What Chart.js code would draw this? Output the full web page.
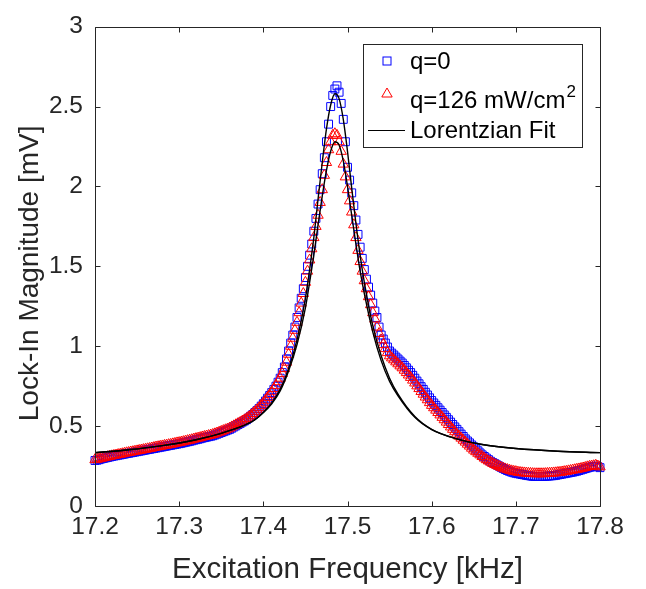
<!DOCTYPE html>
<html><head><meta charset="utf-8">
<script src="https://cdn.jsdelivr.net/npm/chart.js@4.4.1/dist/chart.umd.min.js"></script>
<style>html,body{margin:0;padding:0;background:#fff}canvas{display:block}</style>
</head><body>
<canvas id="c" width="646" height="589"></canvas>
<script>
// Excitation frequency [kHz] of the measured points
const freq = [
 17.2,17.2025,17.205,17.2075,17.21,17.2125,17.215,17.2175,17.22,17.2225,17.225,17.2275,17.23,17.2325,17.235,17.2375,17.24,17.2425,17.245,17.2475,
 17.25,17.2525,17.255,17.2575,17.26,17.2625,17.265,17.2675,17.27,17.2725,17.275,17.2775,17.28,17.2825,17.285,17.2875,17.29,17.2925,17.295,17.2975,
 17.3,17.3025,17.305,17.3075,17.31,17.3125,17.315,17.3175,17.32,17.3225,17.325,17.3275,17.33,17.3325,17.335,17.3375,17.34,17.3425,17.345,17.3475,
 17.35,17.3525,17.355,17.3575,17.36,17.3625,17.365,17.3675,17.37,17.3725,17.375,17.3775,17.38,17.3825,17.385,17.3875,17.39,17.3925,17.395,17.3975,
 17.4,17.4025,17.405,17.4075,17.41,17.4125,17.415,17.4175,17.42,
 17.4225,17.425,17.4275,17.43,17.4325,17.435,17.4375,17.44,17.4425,17.445,17.4475,17.45,17.4525,17.455,17.4575,17.46,17.4625,17.465,17.4675,17.47,
 17.4725,17.475,17.4775,17.48,17.4825,17.485,17.4875,17.49,17.4925,17.495,17.4975,17.5,17.5025,17.505,17.5075,17.51,17.5125,17.515,17.5175,17.52,
 17.5225,17.525,17.5275,17.53,17.5325,17.535,17.5375,17.54,17.5425,17.545,17.5475,
 17.55,17.5525,17.555,17.5575,17.56,17.5625,17.565,17.5675,17.57,17.5725,17.575,17.5775,17.58,17.5825,17.585,17.5875,17.59,17.5925,17.595,17.5975,
 17.6,17.6025,17.605,17.6075,17.61,17.6125,17.615,17.6175,17.62,17.6225,17.625,17.6275,17.63,17.6325,17.635,17.6375,17.64,17.6425,17.645,17.6475,
 17.65,17.6525,17.655,17.6575,17.66,17.6625,17.665,17.6675,17.67,17.6725,17.675,17.6775,17.68,17.6825,17.685,17.6875,17.69,17.6925,17.695,17.6975,
 17.7,17.7025,17.705,17.7075,17.71,17.7125,17.715,17.7175,17.72,17.7225,17.725,17.7275,17.73,17.7325,17.735,17.7375,17.74,17.7425,17.745,17.7475,
 17.75,17.7525,17.755,17.7575,17.76,17.7625,17.765,17.7675,17.77,17.7725,17.775,17.7775,17.78,17.7825,17.785,17.7875,17.79,17.7925,17.795,17.7975,
 17.8
];
// q = 0 (blue squares), lock-in magnitude [mV]
const magQ0 = [
 0.285,0.287,0.29,0.295,0.298,0.301,0.304,0.307,0.31,0.313,0.315,0.318,0.32,0.323,0.325,0.328,0.33,0.333,0.335,0.338,
 0.34,0.343,0.345,0.348,0.35,0.353,0.355,0.358,0.36,0.363,0.365,0.368,0.37,0.373,0.375,0.378,0.38,0.383,0.385,0.388,
 0.39,0.393,0.396,0.399,0.402,0.405,0.408,0.412,0.415,0.418,0.421,0.425,0.428,0.431,0.434,0.437,0.44,0.445,0.45,0.455,
 0.46,0.465,0.47,0.475,0.48,0.487,0.495,0.502,0.51,0.517,0.525,0.532,0.54,0.551,0.562,0.573,0.585,0.597,0.61,0.625,
 0.64,0.657,0.675,0.692,0.71,0.73,0.75,0.775,0.80,
 0.835,0.87,0.92,0.97,1.02,1.07,1.12,1.18,1.24,1.30,1.36,1.43,1.50,1.57,1.64,1.72,1.80,1.89,1.98,2.08,
 2.18,2.28,2.39,2.50,2.57,2.61,2.63,2.59,2.52,2.42,2.28,2.12,2.04,1.96,1.88,1.79,1.70,1.62,1.55,1.48,
 1.42,1.37,1.32,1.27,1.22,1.18,1.12,1.07,1.045,1.02,0.995,
 0.97,0.957,0.945,0.932,0.92,0.907,0.895,0.88,0.865,0.85,0.835,0.818,0.80,0.782,0.765,0.747,0.73,0.712,0.695,0.677,
 0.66,0.645,0.63,0.615,0.60,0.585,0.57,0.555,0.54,0.525,0.51,0.495,0.48,0.465,0.45,0.435,0.42,0.407,0.395,0.382,
 0.37,0.357,0.345,0.332,0.32,0.31,0.30,0.29,0.28,0.272,0.265,0.257,0.25,0.242,0.235,0.228,0.222,0.217,0.212,0.208,
 0.205,0.202,0.20,0.197,0.195,0.192,0.19,0.188,0.186,0.185,0.185,0.185,0.185,0.185,0.186,0.187,0.188,0.189,0.19,0.192,
 0.195,0.197,0.20,0.202,0.205,0.207,0.21,0.212,0.215,0.218,0.222,0.226,0.23,0.234,0.238,0.242,0.245,0.248,0.25,0.246,
 0.24
];
// q = 126 mW/cm^2 (red triangles)
const magQ126 = [
 0.29,0.293,0.296,0.299,0.302,0.305,0.308,0.311,0.314,0.317,0.319,0.322,0.324,0.327,0.33,0.333,0.335,0.338,0.34,0.343,
 0.345,0.348,0.35,0.353,0.355,0.358,0.36,0.363,0.366,0.369,0.371,0.374,0.376,0.379,0.381,0.384,0.386,0.389,0.392,0.395,
 0.397,0.40,0.403,0.406,0.409,0.412,0.415,0.419,0.422,0.425,0.428,0.432,0.435,0.438,0.441,0.444,0.448,0.452,0.457,0.462,
 0.467,0.472,0.477,0.482,0.488,0.495,0.502,0.509,0.516,0.523,0.531,0.539,0.547,0.557,0.568,0.579,0.59,0.602,0.615,0.63,
 0.645,0.662,0.68,0.697,0.715,0.735,0.755,0.778,0.80,
 0.83,0.86,0.90,0.95,1.00,1.05,1.10,1.15,1.21,1.27,1.33,1.40,1.47,1.54,1.61,1.68,1.75,1.82,1.90,1.98,
 2.07,2.15,2.23,2.28,2.32,2.33,2.32,2.28,2.22,2.14,2.06,1.98,1.91,1.84,1.76,1.68,1.60,1.53,1.47,1.41,
 1.36,1.31,1.26,1.21,1.17,1.12,1.08,1.04,1.01,0.985,0.96,
 0.94,0.927,0.915,0.902,0.89,0.877,0.865,0.85,0.835,0.82,0.805,0.788,0.77,0.752,0.735,0.717,0.70,0.682,0.665,0.647,
 0.63,0.615,0.60,0.585,0.57,0.555,0.54,0.525,0.51,0.495,0.48,0.465,0.45,0.437,0.425,0.412,0.40,0.387,0.375,0.362,
 0.35,0.34,0.33,0.32,0.31,0.30,0.29,0.282,0.275,0.267,0.26,0.254,0.248,0.242,0.237,0.232,0.228,0.224,0.22,0.217,
 0.215,0.212,0.21,0.208,0.207,0.206,0.205,0.204,0.203,0.202,0.202,0.202,0.202,0.202,0.203,0.204,0.205,0.206,0.207,0.208,
 0.21,0.211,0.213,0.215,0.217,0.22,0.222,0.225,0.227,0.23,0.232,0.235,0.238,0.241,0.245,0.248,0.25,0.252,0.255,0.25,
 0.245
];
// Lorentzian fit curves
const fitFreq = [17.2,17.24,17.28,17.32,17.35,17.37,17.39,17.4,17.41,17.42,17.43,17.44,17.45,17.455,17.46,17.465,17.47,17.475,17.48,17.485,
 17.49,17.495,17.5,17.505,17.51,17.515,17.52,17.53,17.54,17.55,17.56,17.58,17.6,17.63,17.66,17.7,17.75,17.8];
const fitQ0 = [0.334,0.352,0.378,0.415,0.455,0.49,0.54,0.585,0.645,0.73,0.86,1.04,1.30,1.48,1.68,1.92,2.15,2.36,2.51,2.58,
 2.55,2.42,2.22,1.99,1.77,1.57,1.40,1.13,0.94,0.80,0.70,0.56,0.48,0.42,0.385,0.36,0.343,0.334];
const fitQ126 = [0.334,0.352,0.378,0.415,0.455,0.49,0.54,0.585,0.64,0.72,0.845,1.01,1.24,1.40,1.57,1.76,1.94,2.10,2.22,2.28,
 2.26,2.16,2.00,1.82,1.64,1.47,1.33,1.09,0.91,0.78,0.69,0.555,0.478,0.42,0.385,0.36,0.343,0.334];

const xTicks = [17.2,17.3,17.4,17.5,17.6,17.7,17.8];
const yTicks = [0,0.5,1,1.5,2,2.5,3];
const legendNames = ['q=0','q=126 mW/cm','2','Lorentzian Fit'];
const xTitle = 'Excitation Frequency [kHz]';
const yTitle = 'Lock-In Magnitude [mV]';

const FONT = "'Liberation Sans', Arial, Helvetica, sans-serif";
const AX = '#262626';
const BLUE = '#0000ff', RED = '#ff0000';

const pts = (xs, ys) => xs.map((v, i) => ({x: v, y: ys[i]}));

const framePlugin = {
  id: 'frame',
  afterDatasetsDraw(chart) {
    const {ctx, chartArea: a, scales: {x, y}} = chart;
    const L = Math.round(a.left) + 0.5, R = Math.round(a.right) + 0.5;
    const T = Math.round(a.top) + 0.5, B = Math.round(a.bottom) + 0.5;
    ctx.save();
    ctx.strokeStyle = AX; ctx.lineWidth = 1;
    ctx.beginPath();
    ctx.moveTo(L, T); ctx.lineTo(R, T); ctx.lineTo(R, B); ctx.lineTo(L, B); ctx.closePath();
    const tl = 5;
    x.ticks.forEach(t => {
      const px = Math.round(x.getPixelForValue(t.value)) + 0.5;
      ctx.moveTo(px, B); ctx.lineTo(px, B - tl);
      ctx.moveTo(px, T); ctx.lineTo(px, T + tl);
    });
    y.ticks.forEach(t => {
      const py = Math.round(y.getPixelForValue(t.value)) + 0.5;
      ctx.moveTo(L, py); ctx.lineTo(L + tl, py);
      ctx.moveTo(R, py); ctx.lineTo(R - tl, py);
    });
    ctx.stroke();
    // y-axis title
    ctx.fillStyle = AX;
    ctx.font = '28px ' + FONT;
    ctx.textAlign = 'center'; ctx.textBaseline = 'middle';
    ctx.translate(30, (a.top + a.bottom) / 2 + 7);
    ctx.rotate(-Math.PI / 2);
    ctx.fillText(yTitle, 0, 0);
    ctx.restore();
  }
};

const legendPlugin = {
  id: 'mlegend',
  afterDraw(chart) {
    const {ctx, chartArea: a} = chart;
    const w = 219, h = 103;
    const x0 = Math.round(a.right - 18 - w), y0 = Math.round(a.top + 17);
    ctx.save();
    ctx.fillStyle = '#fff';
    ctx.fillRect(x0, y0, w, h);
    ctx.strokeStyle = AX; ctx.lineWidth = 1;
    ctx.strokeRect(x0 + 0.5, y0 + 0.5, w, h);
    const mx = x0 + 24;
    ctx.strokeStyle = BLUE; ctx.lineWidth = 1;
    ctx.strokeRect(mx - 4, y0 + 17 - 4, 8, 8);
    ctx.strokeStyle = RED;
    const ty = y0 + 50, r = 6;
    ctx.beginPath();
    ctx.moveTo(mx, ty - r);
    ctx.lineTo(mx + r * 0.866, ty + r / 2);
    ctx.lineTo(mx - r * 0.866, ty + r / 2);
    ctx.closePath(); ctx.stroke();
    ctx.strokeStyle = '#000'; ctx.lineWidth = 1.2;
    ctx.beginPath(); ctx.moveTo(x0 + 5, y0 + 86.5); ctx.lineTo(x0 + 42, y0 + 86.5); ctx.stroke();
    ctx.fillStyle = '#000';
    ctx.textBaseline = 'alphabetic'; ctx.textAlign = 'left';
    ctx.font = '24px ' + FONT;
    const tx = x0 + 47;
    ctx.fillText(legendNames[0], tx, y0 + 25);
    ctx.fillText(legendNames[1], tx, y0 + 64);
    const wq = ctx.measureText(legendNames[1]).width;
    ctx.font = '17px ' + FONT;
    ctx.fillText(legendNames[2], tx + wq + 1, y0 + 53);
    ctx.font = '24px ' + FONT;
    ctx.fillText(legendNames[3], tx, y0 + 94);
    ctx.restore();
  }
};

new Chart(document.getElementById('c'), {
  type: 'scatter',
  data: {
    datasets: [
      {label: 'Lorentzian Fit', data: pts(fitFreq, fitQ0), showLine: true, borderColor: '#000', borderWidth: 1.4,
       pointRadius: 0, fill: false, cubicInterpolationMode: 'monotone', order: 0},
      {label: 'Lorentzian Fit (q=126)', data: pts(fitFreq, fitQ126), showLine: true, borderColor: '#000', borderWidth: 1.4,
       pointRadius: 0, fill: false, cubicInterpolationMode: 'monotone', order: 0},
      {label: 'q=126 mW/cm²', data: pts(freq, magQ126), pointStyle: 'triangle', pointRadius: 6, borderWidth: 1,
       borderColor: RED, pointBorderColor: RED, backgroundColor: 'rgba(0,0,0,0)', pointBackgroundColor: 'rgba(0,0,0,0)',
       showLine: false, clip: false, order: 1},
      {label: 'q=0', data: pts(freq, magQ0), pointStyle: 'rect', pointRadius: 5.6, borderWidth: 1,
       borderColor: BLUE, pointBorderColor: BLUE, backgroundColor: 'rgba(0,0,0,0)', pointBackgroundColor: 'rgba(0,0,0,0)',
       showLine: false, clip: false, order: 2}
    ]
  },
  options: {
    responsive: false, animation: false, events: [],
    layout: {padding: {left: 0, right: 46, top: 20, bottom: 0}},
    plugins: {legend: {display: false}, tooltip: {enabled: false}},
    scales: {
      x: {
        type: 'linear', min: 17.2, max: 17.8,
        afterBuildTicks: s => { s.ticks = xTicks.map(v => ({value: v})); },
        afterFit: s => { s.height = 83; },
        grid: {display: false, drawTicks: false},
        border: {display: false},
        ticks: {color: AX, font: {family: FONT, size: 24.5}, padding: 7, maxRotation: 0,
                callback: v => Number(v).toFixed(1)},
        title: {display: true, text: xTitle, color: AX, font: {family: FONT, size: 29.5}, padding: {top: 0, bottom: 1}}
      },
      y: {
        type: 'linear', min: 0, max: 3,
        afterBuildTicks: s => { s.ticks = yTicks.map(v => ({value: v})); },
        afterFit: s => { s.width = 95; },
        grid: {display: false, drawTicks: false},
        border: {display: false},
        ticks: {color: AX, font: {family: FONT, size: 24.5}, padding: 12,
                callback: v => String(v)},
        title: {display: false, text: yTitle}
      }
    }
  },
  plugins: [framePlugin, legendPlugin]
});
</script>
</body></html>
